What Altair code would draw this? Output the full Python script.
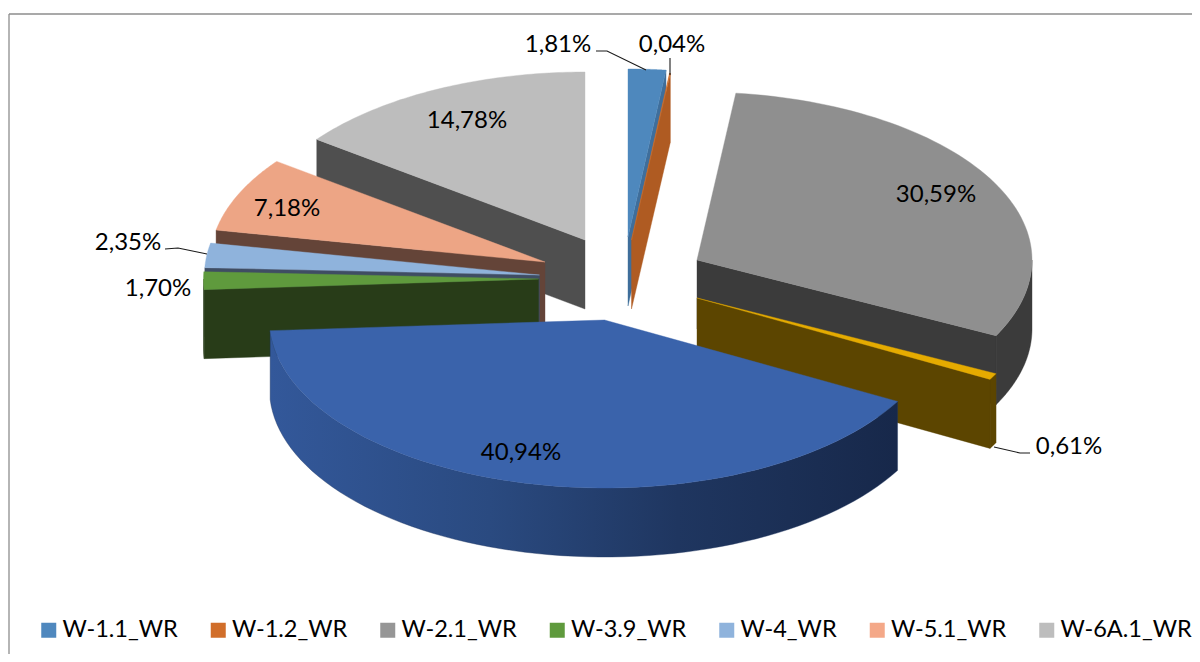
import numpy as np
import pandas as pd
import altair as alt

# Slice names and shares (percent), clockwise from 12 o'clock
slices = ["W-1.1_WR", "W-1.2_WR", "W-2.1_WR", "gold", "blue", "W-3.9_WR", "W-4_WR", "W-5.1_WR", "W-6A.1_WR"]
shares = [1.81, 0.04, 30.59, 0.61, 40.94, 1.70, 2.35, 7.18, 14.78]
labels = ["1,81%", "0,04%", "30,59%", "0,61%", "40,94%", "1,70%", "2,35%", "7,18%", "14,78%"]

legend_names = ["W-1.1_WR", "W-1.2_WR", "W-2.1_WR", "W-3.9_WR", "W-4_WR", "W-5.1_WR", "W-6A.1_WR"]
legend_colors = ["#4F88BE", "#D16E2A", "#969696", "#5F9A3D", "#8FB3DC", "#F4A888", "#BDBDBD"]

# Styling and layout, separate from values
label_x = [558, 672, 936, 1069, 521, 158, 128, 287, 467]
label_y = [45, 45, 195, 447, 453, 289, 243, 209, 121]
apex = [(628, 237), (631.5, 240), (697, 260), (697, 298), (604.5, 320), (538.5, 279), (539.5, 275), (545, 262), (585, 240)]
top_col = ["#4E88BD", "#D16E2A", "#8F8F8F", "#E5AB00", "#3A63AB", "#5F9A3D", "#8FB3DC", "#EDA585", "#BDBDBD"]
wall_col = ["#3F6E9B", "#AF5B22", "#3B3B3B", "#5C4500", None, "#283C18", "#3F4D63", "#644438", "#4F4F4F"]
RX, RY, D = 335, 168, 69
leaders = [[(596, 51), (607, 51), (646, 70)], [(670, 58), (670, 75)],
           [(165, 249), (178, 248), (207, 254)], [(994, 447), (1020, 453), (1030, 453)]]
W, H = 1184, 646
xs = alt.Scale(domain=[8, 8 + W], range=[0, W], nice=False, zero=False)
ys = alt.Scale(domain=[8 + H, 8], range=[H, 0], nice=False, zero=False)


def enc(chart):
    return chart.encode(
        x=alt.X("x:Q", scale=xs, axis=None),
        y=alt.Y("y:Q", scale=ys, axis=None),
        order=alt.Order("i:Q"),
    )


def poly(pts, fill):
    df = pd.DataFrame({"x": [p[0] for p in pts], "y": [p[1] for p in pts], "i": range(len(pts))})
    return enc(alt.Chart(df).mark_line(fill=fill, stroke=fill if isinstance(fill, str) else "#1F3560",
                                       strokeWidth=0.4, interpolate="linear-closed"))


def line(pts, color, width):
    df = pd.DataFrame({"x": [p[0] for p in pts], "y": [p[1] for p in pts], "i": range(len(pts))})
    return enc(alt.Chart(df).mark_line(color=color, strokeWidth=width))


cum = np.concatenate([[0], np.cumsum(shares)]) / sum(shares) * 2 * np.pi


def pt(k, t, dz=0):
    return (apex[k][0] + RX * np.sin(t), apex[k][1] - RY * np.cos(t) + dz)


def arc(k, t0, t1, dz=0, n=70):
    return [pt(k, t, dz) for t in np.linspace(t0, t1, n)]


def apex_pt(k, dz=0):
    return (apex[k][0], apex[k][1] + dz)


def radial_wall(k, t):
    return [apex_pt(k), pt(k, t), pt(k, t, D), apex_pt(k, D)]


def rim(k, t0, t1):
    return arc(k, t0, t1) + arc(k, t1, t0, D)


def top(k):
    return [apex_pt(k)] + arc(k, cum[k], cum[k + 1])


blue_grad = alt.LinearGradient(
    gradient="linear", x1=0, x2=1, y1=0, y2=0,
    stops=[alt.GradientStop(color="#33589A", offset=0),
           alt.GradientStop(color="#2A4A80", offset=0.35),
           alt.GradientStop(color="#1F3660", offset=0.65),
           alt.GradientStop(color="#17284A", offset=1)],
)

layers = []
# frame
layers.append(line([(9, 8 + H), (9, 14)], "#B5B5B5", 2))
layers.append(line([(9, 14), (8 + W, 14)], "#8C8C8C", 1.5))

# legend carrier
leg_df = pd.DataFrame({"x": [600] * 7, "y": [300] * 7, "name": legend_names, "i": range(7)})
layers.append(alt.Chart(leg_df).mark_square(size=0).encode(
    x=alt.X("x:Q", scale=xs, axis=None),
    y=alt.Y("y:Q", scale=ys, axis=None),
    color=alt.Color("name:N", scale=alt.Scale(domain=legend_names, range=legend_colors), legend=alt.Legend(
        title=None, orient="none", legendX=29, legendY=612, direction="horizontal", columns=7,
        columnPadding=28.5, symbolType="square", symbolSize=225, symbolStrokeWidth=0, symbolOpacity=1,
        labelFont="Lato", labelFontSize=23.5, labelColor="#000000", labelOffset=2, labelLimit=200, clipHeight=20,
        padding=0,
    )),
))

# back to front
k = 8
layers += [poly(radial_wall(k, cum[k]), wall_col[k]), poly(top(k), top_col[k])]
k = 7
layers += [poly(radial_wall(k, cum[k]), wall_col[k]), poly(top(k), top_col[k])]
k = 6
layers += [poly(radial_wall(k, cum[k]), wall_col[k]), poly(top(k), top_col[k])]
k = 5
layers += [poly(radial_wall(k, cum[k]), wall_col[k]), poly(rim(k, cum[k], 3 * np.pi / 2), wall_col[k]), poly(top(k), top_col[k])]
k = 0
layers += [poly(radial_wall(k, cum[k + 1]), wall_col[k]), poly(top(k), top_col[k])]
k = 1
layers += [poly(radial_wall(k, cum[k + 1]), wall_col[k]), poly(top(k), top_col[k])]
k = 2
layers += [poly(radial_wall(k, cum[k + 1]), wall_col[k]), poly(rim(k, np.pi / 2, cum[k + 1]), wall_col[k]), poly(top(k), top_col[k])]
k = 3
layers += [poly(radial_wall(k, cum[k + 1]), wall_col[k]), poly(rim(k, cum[k], cum[k + 1]), wall_col[k]), poly(top(k), top_col[k])]
k = 4
layers += [poly(rim(k, cum[k], cum[k + 1]), blue_grad), poly(top(k), top_col[k])]

for ld in leaders:
    layers.append(line(ld, "#1A1A1A", 1.1))

txt = pd.DataFrame({"x": label_x, "y": label_y, "t": labels})
layers.append(alt.Chart(txt).mark_text(font="Lato", fontSize=24, color="#000000", align="center", baseline="middle").encode(
    x=alt.X("x:Q", scale=xs, axis=None),
    y=alt.Y("y:Q", scale=ys, axis=None),
    text="t:N",
))

chart = alt.layer(*layers).properties(
    width=W, height=H, padding=0, background="#FFFFFF",
    autosize=alt.AutoSizeParams(type="none", contains="content"),
).configure_view(strokeWidth=0)

chart.save("out.html", embed_options={"renderer": "svg", "actions": False})
